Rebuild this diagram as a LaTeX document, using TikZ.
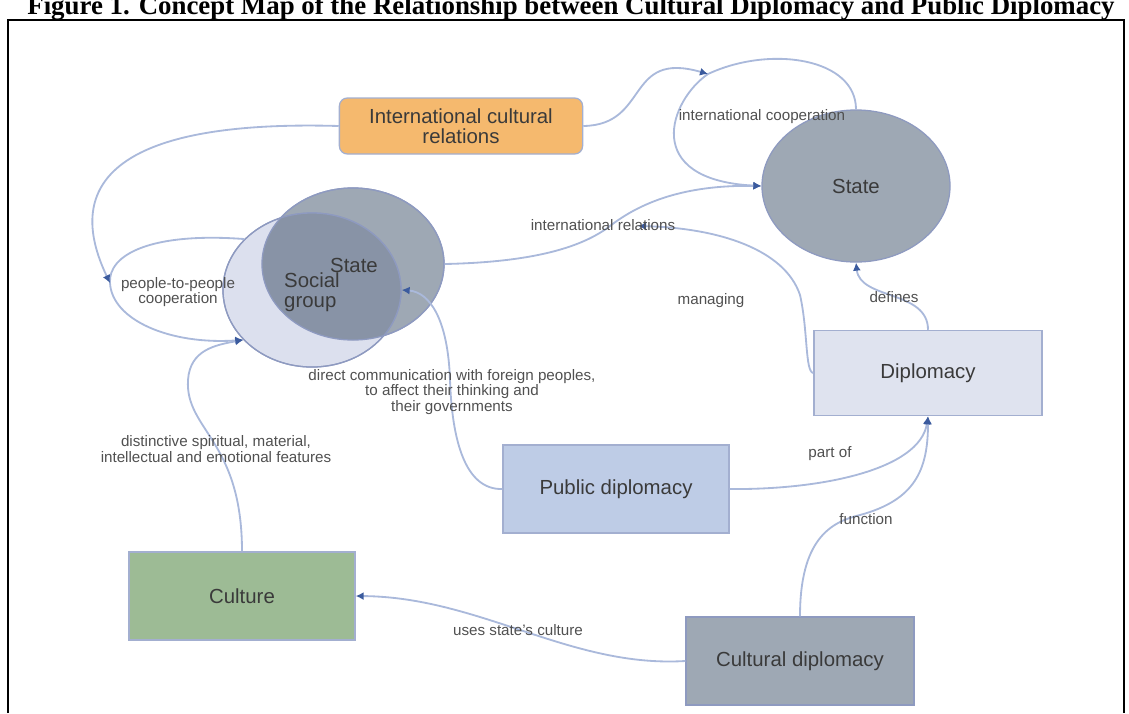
\documentclass[tikz,border=0pt]{standalone}
\usepackage{fontspec}
\setmainfont{Liberation Sans}
\newfontfamily\titlefont{Liberation Serif}
\usetikzlibrary{shapes.geometric,arrows.meta}

\definecolor{linkblue}{HTML}{AAB9DB}
\definecolor{tipblue}{HTML}{3B5B9E}
\definecolor{nodetext}{HTML}{3A3A3A}
\definecolor{lbltext}{HTML}{505050}
\definecolor{orangefill}{HTML}{F5B96E}
\definecolor{grayfill}{HTML}{9EA8B4}
\definecolor{grayline}{HTML}{8E9AC0}
\definecolor{lightfill}{HTML}{DCE0EE}
\definecolor{overlapfill}{HTML}{8893A6}
\definecolor{diplfill}{HTML}{DFE3EF}
\definecolor{pubfill}{HTML}{BECCE6}
\definecolor{greenfill}{HTML}{9DBB95}
\definecolor{boxline}{HTML}{A3AFD0}

\begin{document}
\begin{tikzpicture}[x=0.025cm,y=-0.025cm]
	\tikzstyle{box}=[draw=boxline, line width=0.9pt, minimum width=5.65cm, minimum height=2.2cm, align=center, text=nodetext, font=\fontsize{14.5}{14.5}\selectfont]
	\tikzstyle{oval}=[ellipse, draw=grayline, line width=0.9pt, inner sep=0pt, text=nodetext, font=\fontsize{14.5}{14.5}\selectfont]
	\tikzstyle{link}=[draw=linkblue, line width=1.3pt, -{Latex[length=2mm,width=2mm,color=tipblue]}]
	\tikzstyle{edgetext}=[text=lbltext, font=\fontsize{10.8}{10}\selectfont, align=center, inner sep=0pt]
	
	\useasboundingbox (0,0) rectangle (1129,713);
	\clip (0,0) rectangle (1129,713);
	
	% caption and frame
	\node[anchor=base, inner sep=0pt, font=\titlefont\bfseries\fontsize{19.1}{19.1}\selectfont] (title) at (571,14) {Figure 1. Concept Map of the Relationship between Cultural Diplomacy and Public Diplomacy};
	\draw[line width=1.4pt] (8,713) -- (8,20) -- (1124,20) -- (1124,713);
	
	% concepts
	\node[box, fill=orangefill, rounded corners=2mm, minimum width=6.08cm, minimum height=1.4cm] (icr) at (461,126) {International cultural\\relations};
	\node[oval, fill=grayfill, minimum width=4.7cm, minimum height=3.8cm] (stateR) at (856,186) {State};
	\node[oval, fill=grayfill, minimum width=4.55cm, minimum height=3.8cm] (stateL) at (353,264) {};
	\node[oval, fill=lightfill, minimum width=4.45cm, minimum height=3.85cm] (social) at (312,290) {};
	\begin{scope}
		\clip (stateL.center) ellipse [x radius=2.275cm, y radius=1.9cm];
		\fill[overlapfill] (social.center) ellipse [x radius=2.225cm, y radius=1.925cm];
	\end{scope}
	\draw[grayline, line width=0.9pt] (stateL.center) ellipse [x radius=2.275cm, y radius=1.9cm];
	\draw[grayline, line width=0.9pt] (social.center) ellipse [x radius=2.225cm, y radius=1.925cm];
	\node[text=nodetext, font=\fontsize{14.5}{14.5}\selectfont] (stateLtxt) at (354,265) {State};
	\node[text=nodetext, font=\fontsize{14.5}{14.5}\selectfont, align=left] (socialtxt) at (312,292) {Social\\group};
	
	\node[box, fill=diplfill, minimum width=5.7cm, minimum height=2.13cm] (dipl) at (928,373) {Diplomacy};
	\node[box, fill=pubfill] (pub) at (616,489) {Public diplomacy};
	\node[box, fill=greenfill] (cult) at (242,596) {Culture};
	\node[box, fill=grayfill, draw=grayline, minimum width=5.7cm] (cdip) at (800,661) {Cultural diplomacy};
	
	% points where a link meets another link
	\coordinate (pp) at (110,283);
	\coordinate (ic) at (708,74);
	\coordinate (mg) at (638,226);
	
	% links
	\draw[link] (social.143) .. controls (150,232) and (108,255) .. (pp) .. controls (112,320) and (170,345) .. (social.216);
	\draw[link] (icr.west) .. controls (60,118) and (80,220) .. (pp);
	\draw[link] (cult.north) .. controls (242,440) and (185,430) .. (188,380) .. controls (190,350) and (215,345) .. (social.216);
	\draw[link] (stateL.east) .. controls (540,262) and (585,245) .. (610,226) .. controls (650,195) and (700,185) .. (stateR.west);
	\draw[link] (stateR.north) .. controls (856,58) and (770,45) .. (ic) .. controls (670,100) and (640,180) .. (stateR.west);
	\draw[link] (icr.east) .. controls (650,125) and (625,50) .. (ic);
	\draw[link] (dipl.west) .. controls (805,372) and (808,330) .. (800,295) .. controls (785,250) and (720,228) .. (mg);
	\draw[link] (dipl.north) .. controls (928,290) and (860,300) .. (stateR.south);
	\draw[link] (pub.west) .. controls (465,490) and (452,440) .. (450,380) .. controls (448,320) and (430,292) .. (social.east);
	\draw[link] (pub.east) .. controls (820,490) and (920,470) .. (dipl.south);
	\draw[link] (cdip.north) .. controls (800,540) and (830,522) .. (860,515) .. controls (915,500) and (928,470) .. (dipl.south);
	\draw[link] (cdip.west) .. controls (570,668) and (480,597) .. (cult.east);
	
	% link texts
	\node[edgetext] (ppcoop) at (178,292) {people-to-people\\cooperation};
	\node[edgetext] (features) at (216,449) {distinctive spiritual, material,\\intellectual and emotional features};
	\node[edgetext] (irel) at (603,225) {international relations};
	\node[edgetext] (icoop) at (762,117) {international cooperation};
	\node[edgetext] (managing) at (711,301) {managing};
	\node[edgetext] (defines) at (894,297) {defines};
	\node[edgetext] (direct) at (452,392) {direct communication with foreign peoples,\\to affect their thinking and\\their governments};
	\node[edgetext] (partof) at (830,454) {part of};
	\node[edgetext] (function) at (866,519) {function};
	\node[edgetext] (uses) at (518,630) {uses state's culture};
\end{tikzpicture}
\end{document}
